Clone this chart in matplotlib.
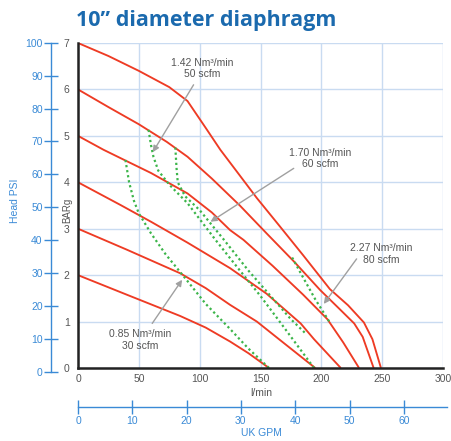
import matplotlib
matplotlib.use('Agg')
import matplotlib.pyplot as plt

# ---------------- data (l/min vs BARg) ----------------
flow_7bar = [0, 25, 50, 75, 90, 105, 117, 130, 147, 165, 185, 207, 222, 235, 242, 249]
head_7bar = [7, 6.72, 6.40, 6.05, 5.75, 5.17, 4.70, 4.25, 3.66, 3.08, 2.43, 1.70, 1.35, 0.98, 0.62, 0]

flow_6bar = [0, 25, 50, 73, 90, 110, 133, 155, 178, 199, 215, 227, 234, 243]
head_6bar = [6, 5.62, 5.25, 4.87, 4.55, 4.08, 3.50, 2.90, 2.28, 1.68, 1.27, 0.96, 0.67, 0]

flow_5bar = [0, 21, 35, 60, 90, 110, 125, 136, 160, 185, 205, 218, 231]
head_5bar = [5, 4.70, 4.52, 4.20, 3.76, 3.35, 2.97, 2.76, 2.20, 1.58, 1.05, 0.55, 0]

flow_4bar = [0, 35, 60, 90, 125, 155, 183, 194, 216]
head_4bar = [4, 3.51, 3.15, 2.70, 2.15, 1.60, 0.96, 0.62, 0]

flow_3bar = [0, 40, 84, 105, 125, 147, 170, 195]
head_3bar = [3, 2.55, 2.04, 1.72, 1.36, 1.00, 0.52, 0]

flow_2bar = [0, 40, 84, 105, 125, 140, 157]
head_2bar = [2, 1.58, 1.12, 0.87, 0.57, 0.32, 0]

air30_flow = [39, 42, 46, 50, 60, 72, 87, 105, 125, 140, 157]
air30_head = [4.48, 4.0, 3.6, 3.33, 2.9, 2.45, 1.97, 1.38, 0.84, 0.42, 0]

air50_flow = [58, 60, 62, 66, 75, 90, 113, 130, 150, 170, 194]
air50_head = [5.13, 4.8, 4.55, 4.25, 3.95, 3.55, 2.76, 2.2, 1.55, 0.85, 0]

air60_flow = [80, 81, 82, 88, 100, 120, 140, 160, 175, 188]
air60_head = [4.75, 4.3, 4.0, 3.7, 3.4, 2.76, 2.1, 1.5, 1.05, 0.72]

air80_flow = [176, 185, 195, 207]
air80_head = [2.38, 1.95, 1.48, 0.98]

x_ticks = [0, 50, 100, 150, 200, 250, 300]
bar_ticks = [0, 1, 2, 3, 4, 5, 6, 7]
psi_ticks = [0, 10, 20, 30, 40, 50, 60, 70, 80, 90, 100]
gpm_ticks = [0, 10, 20, 30, 40, 50, 60]

labels = ["0.85 Nm³/min\n30 scfm", "1.42 Nm³/min\n50 scfm",
          "1.70 Nm³/min\n60 scfm", "2.27 Nm³/min\n80 scfm"]
label_xy = [(51.4, 0.60), (102.3, 6.45), (199.3, 4.51), (249.4, 2.46)]
arrow_tail = [(61, 0.96), (95, 6.1), (177.3, 4.30), (229, 2.35)]
arrow_tip = [(85.6, 1.90), (61.5, 4.65), (108.9, 3.15), (202, 1.38)]

# ---------------- figure ----------------
plt.rcParams['font.family'] = ['Liberation Sans', 'DejaVu Sans']
W, H = 451, 441
fig = plt.figure(figsize=(W / 100, H / 100), dpi=100)

def fx(px):
    return px / W

def fy(py):
    return 1 - py / H

RED = '#ee3b24'
GREEN = '#3cb54a'
BLUE = '#3a8ad6'
GRIDC = '#c9dbf1'
GRAY = '#555555'

ax = fig.add_axes([fx(78), fy(368), (443 - 78) / W, (368 - 43) / H])
ax.set_xlim(0, 300)
ax.set_ylim(0, 7)
ax.set_xticks(x_ticks)
ax.set_yticks(bar_ticks)
ax.grid(True, color=GRIDC, lw=1.0, zorder=0)
ax.set_axisbelow(True)
for s in ['top', 'right']:
    ax.spines[s].set_visible(False)
for s in ['left', 'bottom']:
    ax.spines[s].set_color('#222222')
    ax.spines[s].set_linewidth(1.8)
    ax.spines[s].set_zorder(5)
ax.tick_params(length=0, pad=4, labelsize=7.5, labelcolor=GRAY)
ax.tick_params(axis='y', pad=6)

for fl, hd in [(flow_7bar, head_7bar), (flow_6bar, head_6bar), (flow_5bar, head_5bar),
               (flow_4bar, head_4bar), (flow_3bar, head_3bar), (flow_2bar, head_2bar)]:
    ax.plot(fl, hd, color=RED, lw=1.35, zorder=3, solid_capstyle='butt')

for fl, hd in [(air30_flow, air30_head), (air50_flow, air50_head),
               (air60_flow, air60_head), (air80_flow, air80_head)]:
    ax.plot(fl, hd, color=GREEN, lw=1.6, linestyle=(0, (1.0, 1.3)), zorder=4)

for txt, (tx, ty), tail, tip in zip(labels, label_xy, arrow_tail, arrow_tip):
    ax.text(tx, ty, txt, ha='center', va='center', fontsize=7.5, color=GRAY,
            linespacing=1.2, zorder=6)
    ax.annotate('', xy=tip, xytext=tail,
                arrowprops=dict(arrowstyle='-|>', color='#a0a0a0', lw=1.0,
                                mutation_scale=9, shrinkA=0, shrinkB=0), zorder=6)

# PSI axis
axp = fig.add_axes([fx(51), fy(372), 0.0005, (372 - 42.7) / H])
axp.set_ylim(0, 100)
axp.set_yticks(psi_ticks)
axp.patch.set_visible(False)
axp.xaxis.set_visible(False)
for s in ['top', 'right', 'bottom']:
    axp.spines[s].set_visible(False)
axp.spines['left'].set_color(BLUE)
axp.spines['left'].set_linewidth(1.0)
axp.tick_params(axis='y', direction='inout', length=10, width=1.0, color=BLUE,
                labelcolor=BLUE, labelsize=7.5, pad=1)

# UK GPM axis
axg = fig.add_axes([fx(78), fy(406.7), (446.7 - 78) / W, 0.0005])
axg.set_xlim(0, (446.7 - 78) / 5.43)
axg.set_xticks(gpm_ticks)
axg.patch.set_visible(False)
axg.yaxis.set_visible(False)
for s in ['top', 'right', 'left']:
    axg.spines[s].set_visible(False)
axg.spines['bottom'].set_color(BLUE)
axg.spines['bottom'].set_linewidth(1.0)
axg.tick_params(axis='x', direction='inout', length=10, width=1.0, color=BLUE,
                labelcolor=BLUE, labelsize=7.5, pad=2)

# axis labels
fig.text(fx(261.7), fy(393), 'l/min', ha='center', va='center', fontsize=7.5, color=GRAY)
fig.text(fx(261.7), fy(433), 'UK GPM', ha='center', va='center', fontsize=7.5, color=BLUE)
fig.text(fx(15), fy(201), 'Head PSI', ha='center', va='center', rotation=90,
         fontsize=7.5, color=BLUE)
fig.text(fx(67), fy(210), 'BARg', ha='center', va='center', rotation=90,
         fontsize=7, color=GRAY)

fig.text(fx(76), fy(26), '10” diameter diaphragm', ha='left', va='baseline',
         fontsize=15.5, fontweight='bold', color='#1b6aae', family=['Open Sans', 'DejaVu Sans'])

fig.savefig('out.png', dpi=100)
